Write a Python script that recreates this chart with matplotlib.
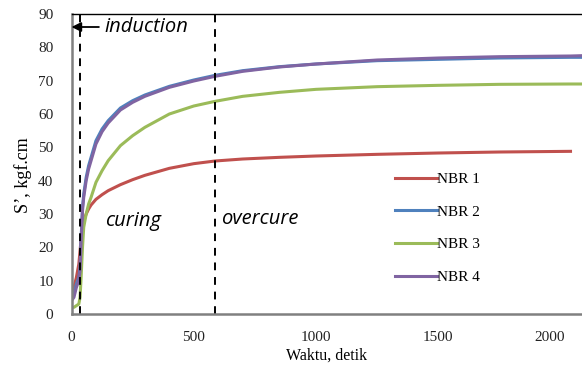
import matplotlib
matplotlib.use("Agg")
from matplotlib import pyplot as plt
from matplotlib import transforms

# waktu (detik) dan torsi S' (kgf.cm)
t = [0, 10, 20, 30, 35, 40, 45, 50, 60, 70, 80, 100, 125, 150, 200, 250, 300, 400,
     500, 587, 700, 850, 1000, 1250, 1500, 1750, 2040, 2090]
nbr1 = [6, 8, 11, 15, 19, 23, 26, 28, 30, 31.5, 32.7, 34.4, 35.8, 37, 38.8, 40.3,
        41.6, 43.7, 45.1, 45.9, 46.5, 47, 47.4, 47.9, 48.3, 48.6, 48.8, None]
nbr2 = [5, 6, 9, 11, 14, 24, 32, 36, 41, 44.5, 47, 52, 55.5, 58, 61.8, 64,
        65.7, 68.3, 70.2, 71.6, 73, 74.2, 75, 76, 76.4, 76.8, 77, 77]
nbr3 = [2, 2, 2.5, 3, 5, 12, 20, 26, 30, 33, 35, 39.5, 43, 46, 50.5, 53.5,
        56, 60, 62.4, 63.8, 65.3, 66.5, 67.4, 68.2, 68.6, 68.9, 69, 69]
nbr4 = [4, 5, 8, 10, 13, 23, 31, 35, 40, 43.5, 46, 51, 54.7, 57.3, 61.2, 63.5,
        65.3, 68, 69.9, 71.3, 72.8, 74.1, 75, 76.2, 76.8, 77.2, 77.4, 77.5]

labels = ['NBR 1', 'NBR 2', 'NBR 3', 'NBR 4']
colors = ['#C0504D', '#4F81BD', '#9BBB59', '#8064A2']
induction_end = 35
curing_end = 587

serif = 'Liberation Serif'
italic_font = 'Open Sans'

fig = plt.figure(figsize=(5.82, 3.70), dpi=100)
ax = fig.add_axes([71.5/582, 1 - 314/370, 1 - 71.5/582, 300/370])

for y, lab, c in zip([nbr1, nbr2, nbr3, nbr4], labels, colors):
    pts = [(a, b) for a, b in zip(t, y) if b is not None]
    ax.plot([p[0] for p in pts], [p[1] for p in pts], color=c, lw=2.2, label=lab)

for xv in [induction_end, curing_end]:
    ax.axvline(xv, color='black', lw=1.4, linestyle=(0, (4, 3.5)))

ax.set_xlim(0, 2087)
ax.set_ylim(0, 90)
ax.set_xticks([0, 500, 1000, 1500, 2000])
ax.set_yticks(range(0, 91, 10))
ax.tick_params(axis='x', length=0, labelsize=11, pad=12)
ax.tick_params(axis='y', length=0, labelsize=11, pad=13)
for lbl in ax.get_xticklabels() + ax.get_yticklabels():
    lbl.set_fontfamily(serif)
    lbl.set_color('#222222')
# label 2000 digeser sedikit ke kiri seperti di aslinya
last = ax.get_xticklabels()[-1]
last.set_transform(last.get_transform() +
                   transforms.ScaledTranslation(-11/100, 0, fig.dpi_scale_trans))

ax.spines['right'].set_visible(False)
ax.spines['top'].set_color('black')
ax.spines['top'].set_linewidth(1.0)
for s in ['left', 'bottom']:
    ax.spines[s].set_color('#808080')
    ax.spines[s].set_linewidth(1.8)

ax.set_xlabel('Waktu, detik', fontfamily=serif, fontsize=11.5, labelpad=3)
ax.set_ylabel("S’, kgf.cm", fontfamily=serif, fontsize=13)
ax.yaxis.set_label_coords(-0.078, 0.463)

# anotasi
ax.annotate('', xy=(0, 86.1), xytext=(112, 86.1),
            arrowprops=dict(arrowstyle='-|>', color='black', lw=1.3,
                            mutation_scale=14, shrinkA=0, shrinkB=0))
ax.text(134, 86.1, 'induction', fontfamily=italic_font, style='italic',
        fontsize=14.5, va='center', ha='left')
ax.text(138, 28.0, 'curing', fontfamily=italic_font, style='italic',
        fontsize=14.5, va='center', ha='left')
ax.text(612, 28.6, 'overcure', fontfamily=italic_font, style='italic',
        fontsize=14.5, va='center', ha='left')

leg = ax.legend(loc='upper left', bbox_to_anchor=(0.6225, 0.493), frameon=False,
                prop={'family': serif, 'size': 11}, handlelength=2.7,
                handletextpad=0.05, labelspacing=1.25, borderaxespad=0)

fig.savefig('out.png', dpi=100)
